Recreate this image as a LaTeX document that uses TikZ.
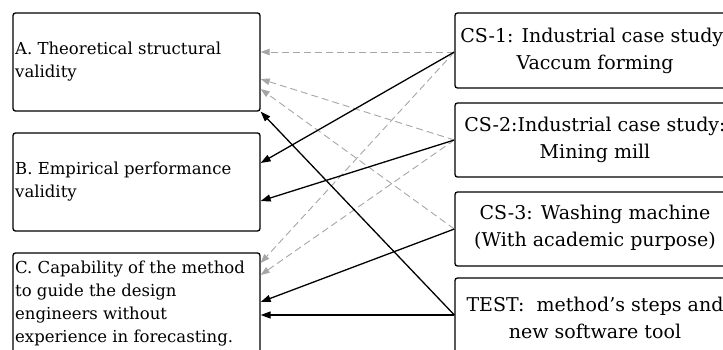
\documentclass[tikz,border=0pt]{standalone}
\usepackage{fontspec}
\setmainfont{DejaVu Serif}
\usetikzlibrary{arrows.meta,calc}
\begin{document}
\begin{tikzpicture}[x=1pt,y=-1pt,
  box/.style={draw=black,line width=1.3pt,rounded corners=2.5pt,inner sep=0pt},
  lefttext/.style={inner sep=0pt,align=left,font=\fontsize{16.5}{23}\selectfont},
  righttext/.style={inner sep=0pt,align=center,font=\fontsize{19}{27.5}\selectfont},
  solidarrow/.style={line width=1.3pt,black,-{Triangle[length=10pt,width=7pt]}},
  dasharrow/.style={line width=0.9pt,black!35,dash pattern=on 7pt off 4pt,-{Triangle[length=9pt,width=6.5pt]}}]
\useasboundingbox (0,0) rectangle (723,349);
\begin{scope}
\clip (0,0) rectangle (723,349);
% criteria (left column)
\node[box,minimum width=247pt,minimum height=98pt] (A) at (136.5,62) {};
\node[box,minimum width=247pt,minimum height=98pt] (B) at (136.5,182) {};
\node[box,minimum width=247pt,minimum height=110pt] (C) at (136.5,308) {};
\node[lefttext,anchor=west] (At) at (15,62) {A. Theoretical structural\\validity};
\node[lefttext,anchor=west] (Bt) at (15,182) {B. Empirical performance\\validity};
\node[lefttext,anchor=north west] (Ct) at (15,261) {C. Capability of the method\\to guide the design\\engineers without\\experience in forecasting.};
% case studies (right column)
\node[box,minimum width=280pt,minimum height=75pt] (CS1) at (595,50.5) {};
\node[box,minimum width=280pt,minimum height=74pt] (CS2) at (595,140) {};
\node[box,minimum width=280pt,minimum height=74pt] (CS3) at (595,229) {};
\node[box,minimum width=280pt,minimum height=85pt] (TEST) at (595,320.5) {};
\node[righttext] (CS1t) at (595,51) {CS-1: Industrial case study:\\Vaccum forming};
\node[righttext] (CS2t) at (595,140) {CS-2:Industrial case study:\\Mining mill};
\node[righttext] (CS3t) at (595,228) {CS-3: Washing machine\\(With academic purpose)};
\node[righttext] (TESTt) at (595,318) {TEST:\ \ method's steps and\\new software tool};
\end{scope}
% dashed links
\draw[dasharrow] ([yshift=-1.5pt]CS1.west) -- ([yshift=10pt]A.east);
\draw[dasharrow] (CS2.west) -- ([yshift=-17pt]A.east);
\draw[dasharrow] (CS3.west) -- ([yshift=-27pt]A.east);
\draw[dasharrow] ([yshift=-1.5pt]CS1.west) -- ([yshift=45pt]C.east);
\draw[dasharrow] (CS2.west) -- ([yshift=33pt]C.east);
% solid links
\draw[solidarrow] ([yshift=-1.5pt]CS1.west) -- ([yshift=19pt]B.east);
\draw[solidarrow] (CS2.west) -- ([yshift=-19pt]B.east);
\draw[solidarrow] (CS3.west) -- ([yshift=6pt]C.east);
\draw[solidarrow] ([yshift=5.5pt]TEST.west) -- ([yshift=-7pt]C.east);
\draw[solidarrow] ([yshift=5.5pt]TEST.west) -- (A.south east);
\end{tikzpicture}
\end{document}
